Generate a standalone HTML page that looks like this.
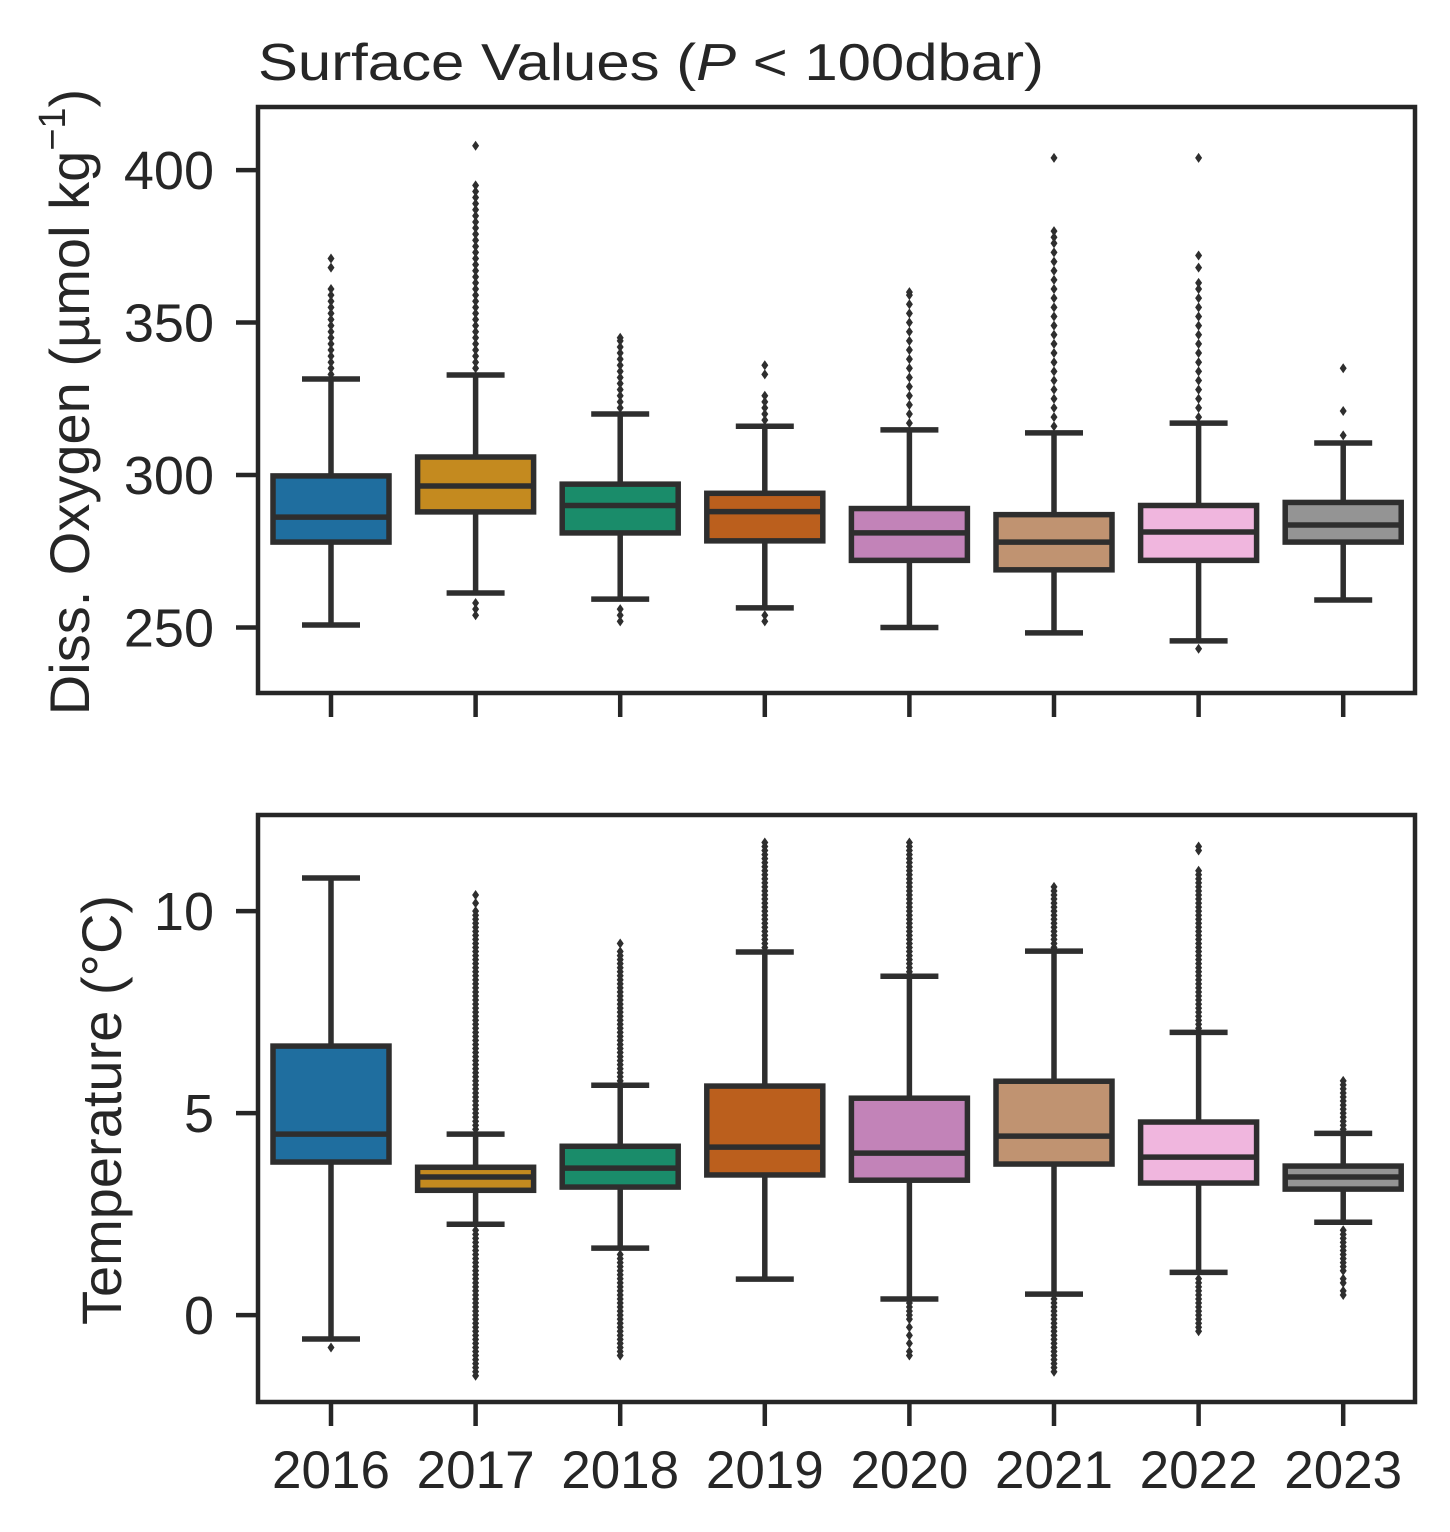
<!DOCTYPE html>
<html><head><meta charset="utf-8">
<style>
html,body{margin:0;padding:0;background:#fff;}
svg{display:block;font-family:"Liberation Sans","DejaVu Sans",sans-serif;}
</style></head>
<body>
<svg id="chart" width="1450" height="1532" viewBox="0 0 1450 1532" xmlns="http://www.w3.org/2000/svg">
<text x="258" y="80" font-size="52" fill="#262626" textLength="786" lengthAdjust="spacingAndGlyphs">Surface Values (<tspan font-style="italic">P</tspan> &lt; 100dbar)</text>
<text transform="translate(89,402) rotate(-90)" text-anchor="middle" font-size="56" fill="#262626">Diss. Oxygen (µmol kg<tspan dy="-24" font-size="38">−1</tspan><tspan dy="24">)</tspan></text>
<text transform="translate(121,1110) rotate(-90)" text-anchor="middle" font-size="56" fill="#262626">Temperature (°C)</text>
</svg>
<script>
const years = ["2016","2017","2018","2019","2020","2021","2022","2023"];
const colors = ["#1f6e9f","#c48a1f","#1a8c6a","#bb5f1d","#c283b8","#c09371","#f0b6de","#949494"];
// Oxygen stats
const oxyLow = [250.8,261.3,259.3,256.4,250,248.2,245.6,259];
const oxyQ1 = [278,287.9,281,278.4,272,268.9,272,278];
const oxyMed = [286.2,296.4,290,288,281,278,281.3,283.6];
const oxyQ3 = [299.7,305.9,297,294,289,287,290,291];
const oxyHigh = [331.5,332.8,320,316,314.8,313.8,317,310.5];
const oxyFliers = [
 [333,335,337,339,341,343,345,347,349,351,353,355,357,359,361,368,371],
 [254,256,258,335,337,339,341,343,345,347,349,351,353,355,357,359,361,363,365,367,369,371,373,375,377,379,381,383,385,387,389,391,393,395,408],
 [252,254,256,322,324,326,328,330,332,334,336,338,340,342,344,345],
 [252,254,318,320,322,324,326,333,336],
 [317,320,323,326,329,332,335,338,341,344,347,350,353,356,359,360],
 [316,319,322,325,328,331,334,337,340,343,346,349,352,355,358,361,364,367,370,373,376,378,380,404],
 [243,319,322,325,328,331,334,337,340,343,346,349,352,355,358,361,363,368,372,404],
 [313,321,335]
];
// Temperature stats
const tLow = [-0.59,2.25,1.66,0.89,0.40,0.52,1.06,2.30];
const tQ1 = [3.79,3.09,3.17,3.47,3.34,3.74,3.27,3.12];
const tMed = [4.48,3.42,3.64,4.16,4.01,4.43,3.91,3.42];
const tQ3 = [6.66,3.66,4.18,5.67,5.37,5.79,4.78,3.69];
const tHigh = [10.82,4.48,5.69,8.99,8.39,9.01,7.0,4.5];
const tFliers = [
 [-0.8],
 [-1.5,-1.4,-1.3,-1.2,-1.1,-1.0,-0.9,-0.8,-0.7,-0.6,-0.5,-0.4,-0.3,-0.2,-0.1,0,0.1,0.2,0.3,0.4,0.5,0.6,0.7,0.8,0.9,1.0,1.1,1.2,1.3,1.4,1.5,1.6,1.7,1.8,1.9,2.0,2.1,4.6,4.7,4.8,4.9,5.0,5.1,5.2,5.3,5.4,5.5,5.6,5.7,5.8,5.9,6.0,6.1,6.2,6.3,6.4,6.5,6.6,6.7,6.8,6.9,7.0,7.1,7.2,7.3,7.4,7.5,7.6,7.7,7.8,7.9,8.0,8.1,8.2,8.3,8.4,8.5,8.6,8.7,8.8,8.9,9.0,9.1,9.2,9.3,9.4,9.5,9.6,9.7,9.8,9.9,10.0,10.2,10.4],
 [-1.0,-0.9,-0.8,-0.7,-0.6,-0.5,-0.4,-0.3,-0.2,-0.1,0,0.1,0.2,0.3,0.4,0.5,0.6,0.7,0.8,0.9,1.0,1.1,1.2,1.3,1.4,1.5,5.8,5.9,6.0,6.1,6.2,6.3,6.4,6.5,6.6,6.7,6.8,6.9,7.0,7.1,7.2,7.3,7.4,7.5,7.6,7.7,7.8,7.9,8.0,8.1,8.2,8.3,8.4,8.5,8.6,8.7,8.8,8.9,9.0,9.2],
 [9.1,9.2,9.3,9.4,9.5,9.6,9.7,9.8,9.9,10.0,10.1,10.2,10.3,10.4,10.5,10.6,10.7,10.8,10.9,11.0,11.1,11.2,11.3,11.4,11.5,11.6,11.7],
 [-1.0,-0.9,-0.7,-0.5,-0.3,-0.1,0,0.1,0.2,0.3,8.5,8.6,8.7,8.8,8.9,9.0,9.1,9.2,9.3,9.4,9.5,9.6,9.7,9.8,9.9,10.0,10.1,10.2,10.3,10.4,10.5,10.6,10.7,10.8,10.9,11.0,11.1,11.2,11.3,11.4,11.5,11.6,11.7],
 [-1.4,-1.3,-1.2,-1.1,-1.0,-0.9,-0.8,-0.7,-0.6,-0.5,-0.4,-0.3,-0.2,-0.1,0,0.1,0.2,0.3,0.4,9.1,9.2,9.3,9.4,9.5,9.6,9.7,9.8,9.9,10.0,10.1,10.2,10.3,10.4,10.5,10.6],
 [-0.4,-0.3,-0.2,-0.1,0,0.1,0.2,0.3,0.4,0.5,0.6,0.7,0.8,0.9,7.1,7.2,7.3,7.4,7.5,7.6,7.7,7.8,7.9,8.0,8.1,8.2,8.3,8.4,8.5,8.6,8.7,8.8,8.9,9.0,9.1,9.2,9.3,9.4,9.5,9.6,9.7,9.8,9.9,10.0,10.1,10.2,10.3,10.4,10.5,10.6,10.7,10.8,10.9,11.0,11.5,11.6],
 [0.5,0.6,0.8,0.9,1.1,1.2,1.3,1.4,1.5,1.6,1.7,1.8,1.9,2.0,2.1,4.6,4.7,4.8,4.9,5.0,5.1,5.2,5.3,5.4,5.5,5.6,5.7,5.8]
];
const oxyTicks = [250,300,350,400];
const tTicks = [0,5,10];

const NS="http://www.w3.org/2000/svg";
const svg=document.getElementById('chart');
const LINE="#2e2e2e";
function mk(tag,attrs,parent){const e=document.createElementNS(NS,tag);for(const k in attrs)e.setAttribute(k,attrs[k]);(parent||svg).appendChild(e);return e;}
const xL=258,xR=1415;
function xPos(i){return 331+i*144.6;}

function panel(name,top,bot,vmin,vmax,low,q1,med,q3,high,fliers,ticks,showYears){
  const g=mk('g',{});
  
  
  const y=v=>bot-(v-vmin)/(vmax-vmin)*(bot-top);
  for(let i=0;i<years.length;i++){
    const cx=xPos(i),hw=58;
    const bg=mk('g',{},g);
    
    
    fliers[i].forEach(v=>{
      const yy=y(v);
      const d=mk('path',{d:`M${cx},${yy-5}L${cx+3.5},${yy}L${cx},${yy+5}L${cx-3.5},${yy}Z`,fill:LINE},bg);
      
      
    });
    mk('line',{x1:cx,x2:cx,y1:y(q3[i]),y2:y(high[i]),stroke:LINE,'stroke-width':5.5},bg);
    mk('line',{x1:cx,x2:cx,y1:y(q1[i]),y2:y(low[i]),stroke:LINE,'stroke-width':5.5},bg);
    mk('line',{x1:cx-29,x2:cx+29,y1:y(high[i]),y2:y(high[i]),stroke:LINE,'stroke-width':5.5},bg);
    mk('line',{x1:cx-29,x2:cx+29,y1:y(low[i]),y2:y(low[i]),stroke:LINE,'stroke-width':5.5},bg);
    mk('rect',{x:cx-hw,y:y(q3[i]),width:2*hw,height:y(q1[i])-y(q3[i]),fill:colors[i],stroke:LINE,'stroke-width':5.5},bg);
    mk('line',{x1:cx-hw,x2:cx+hw,y1:y(med[i]),y2:y(med[i]),stroke:LINE,'stroke-width':5.5},bg);
  }
  const fr=mk('rect',{x:xL,y:top,width:xR-xL,height:bot-top,fill:'none',stroke:'#262626','stroke-width':4.5},g);
  
  
  ticks.forEach(t=>{
    mk('line',{x1:236,x2:xL,y1:y(t),y2:y(t),stroke:'#262626','stroke-width':4.5},g);
    const tx=mk('text',{x:214,y:y(t)+19,'text-anchor':'end','font-size':54,fill:'#262626'},g);
    tx.textContent=t;
    
    
  });
  for(let i=0;i<years.length;i++){
    mk('line',{x1:xPos(i),x2:xPos(i),y1:bot,y2:bot+24,stroke:'#262626','stroke-width':4.5},g);
    if(showYears){
      const tx=mk('text',{x:xPos(i),y:bot+86,'text-anchor':'middle','font-size':53,fill:'#262626'},g);
      tx.textContent=years[i];
      
      
    }
  }
}
panel('oxygen',107,693,228.5,420.7,oxyLow,oxyQ1,oxyMed,oxyQ3,oxyHigh,oxyFliers,oxyTicks,false);
panel('temperature',815,1402,-2.15,12.38,tLow,tQ1,tMed,tQ3,tHigh,tFliers,tTicks,true);
</script>
</body></html>
